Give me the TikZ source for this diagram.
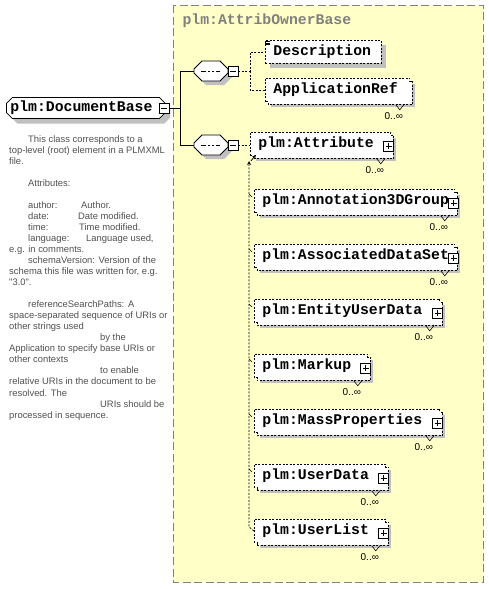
\documentclass[tikz,border=0pt]{standalone}
\usepackage{fontspec}
\usetikzlibrary{shapes.misc,shadows}
\newfontfamily\monofam{Liberation Mono}
\newfontfamily\sansfam{Liberation Sans}
\definecolor{groupfill}{RGB}{255,255,200}
\definecolor{shadowgray}{RGB}{192,192,192}
\definecolor{notegray}{RGB}{80,80,80}
\newcommand\elemfont{\monofam\bfseries\fontsize{14.8pt}{16pt}\selectfont}
\newcommand\notefont{\sansfam\fontsize{9.4pt}{11.05pt}\selectfont}

\tikzset{
  box/.style={draw, fill=white, line width=0.8pt, dash pattern=on 2pt off 1.5pt,
    font=\elemfont, anchor=north west, minimum height=23pt, inner xsep=8pt,
    inner ysep=0pt, text height=10pt, text depth=2pt, align=left},
  single/.style={box, general shadow={fill=shadowgray, shadow xshift=5pt, shadow yshift=-5pt}},
  multi/.style={box, draw=none, general shadow={fill=shadowgray, shadow xshift=6pt, shadow yshift=-6pt},
    general shadow={fill=white, shadow xshift=3pt, shadow yshift=-3pt}},
  seq/.style={draw, fill=white, line width=0.8pt, chamfered rectangle,
    chamfered rectangle sep=4pt, inner xsep=13pt, inner ysep=6pt,
    general shadow={fill=shadowgray, shadow xshift=4pt, shadow yshift=-4pt},
    path picture={
      \draw[line width=0.8pt] ([xshift=-10pt]path picture bounding box.center) -- ([xshift=9pt]path picture bounding box.center);
      \foreach \d in {-4,0,4}
        \fill ([xshift=\d pt]path picture bounding box.center) +(-1.4pt,-1.4pt) rectangle +(1.4pt,1.4pt);}},
  minusbox/.style={draw, fill=white, line width=0.8pt, minimum size=10pt, inner sep=0pt,
    path picture={\draw ([xshift=2pt]path picture bounding box.west) -- ([xshift=-2pt]path picture bounding box.east);}},
  plusbox/.style={draw, fill=white, line width=0.8pt, minimum size=10pt, inner sep=0pt,
    path picture={\draw ([xshift=2pt]path picture bounding box.west) -- ([xshift=-2pt]path picture bounding box.east);
      \draw ([yshift=-2pt]path picture bounding box.north) -- ([yshift=2pt]path picture bounding box.south);}},
  mult/.style={font=\sansfam\fontsize{10pt}{10pt}\selectfont, inner sep=0pt},
  link/.style={line width=1pt},
  dlink/.style={line width=0.8pt, dash pattern=on 2pt off 1.5pt},
  notch/.style={line width=0.6pt}
}

\begin{document}
\begin{tikzpicture}[x=1pt,y=-1pt,>=stealth]
  \useasboundingbox (0,0) rectangle (489,589);
  \draw[fill=groupfill, draw=black!50, line width=1pt, dash pattern=on 8pt off 3.5pt] (173,5) rectangle (483,582);
  \node[anchor=west, font=\elemfont, text=black!50] (grouptitle) at (179,21) {plm:AttribOwnerBase};

  \node[draw, fill=white, line width=0.8pt, chamfered rectangle, chamfered rectangle sep=3pt,
    inner xsep=1pt, inner ysep=1pt, text width=151pt, align=left, font=\elemfont,
    text height=10pt, text depth=3pt, anchor=west,
    general shadow={fill=shadowgray, shadow xshift=5pt, shadow yshift=-5pt}] (docbase) at (6,108) {plm:DocumentBase};
  \node[minusbox] (docmin) at (164,108) {};

  \node[anchor=north west, align=left, font=\notefont, text=notegray, inner sep=0pt] (docnote) at (9,135) {%
    \hspace*{19pt}This class corresponds to a\\
    top-level (root) element in a PLMXML\\
    file.\\[11pt]
    \hspace*{19pt}Attributes:\\[11pt]
    \hspace*{19pt}\makebox[53pt][l]{author:}Author.\\
    \hspace*{19pt}\makebox[50pt][l]{date:}Date modified.\\
    \hspace*{19pt}\makebox[51pt][l]{time:}Time modified.\\
    \hspace*{19pt}\makebox[58pt][l]{language:}Language used,\\
    e.g. in comments.\\
    \hspace*{19pt}schemaVersion: Version of the\\
    schema this file was written for, e.g.\\
    "3.0".\\[11pt]
    \hspace*{19pt}\makebox[100pt][l]{referenceSearchPaths:}A\\
    space-separated sequence of URIs or\\
    other strings used\\
    \hspace*{91pt}by the\\
    Application to specify base URIs or\\
    other contexts\\
    \hspace*{91pt}to enable\\
    relative URIs in the document to be\\
    resolved. The\\
    \hspace*{91pt}URIs should be\\
    processed in sequence.};

  \node[seq] (seqa) at (211,71) {};
  \node[minusbox] (seqamin) at (233,71) {};
  \node[seq] (seqb) at (211,145) {};
  \node[minusbox] (seqbmin) at (233,145) {};

  \node[single, text width=100pt] (descr) at (265,40) {Description};
  \foreach \d in {1.5,3,4.5}
    \draw[line width=0.6pt] ([yshift=-\d pt]descr.north west) -- ++(5pt,0);
  \node[multi, text width=128pt] (appref) at (265,78) {ApplicationRef};

  \node[multi, text width=124pt] (attr) at (250,132) {plm:Attribute};
  \node[multi, text width=184pt] (anno) at (254,189) {plm:Annotation3DGroup};
  \node[multi, text width=184pt] (assoc) at (254,244) {plm:AssociatedDataSet};
  \node[multi, text width=169pt] (entity) at (254,299) {plm:EntityUserData};
  \node[multi, text width=97pt] (markup) at (254,354) {plm:Markup};
  \node[multi, text width=169pt] (mass) at (254,409) {plm:MassProperties};
  \node[multi, text width=115pt] (udata) at (254,464) {plm:UserData};
  \node[multi, text width=115pt] (ulist) at (254,519) {plm:UserList};

  \foreach \n in {appref,attr,anno,assoc,entity,markup,mass,udata,ulist} {
    \draw[dlink] (\n.south west) -- (\n.north west) -- (\n.north east) -- ++(0,-3pt) -- ++(3pt,0)
      -- ([shift={(3pt,-3pt)}]\n.south east) -- ([shift={(3pt,-3pt)}]\n.south west) -- ++(0,3pt) -- cycle;
    \draw[notch] ([xshift=-14pt,yshift=-3pt]\n.south east) -- ++(4pt,-5pt) -- ++(4pt,5pt);
    \node[mult] (\n-m) at ([xshift=-16pt,yshift=-14pt]\n.south east) {0..∞};
  }

  \node[plusbox] (attrp) at ([xshift=-2pt,yshift=-2pt]attr.east) {};
  \node[plusbox] (annop) at ([xshift=-1pt,yshift=-2pt]anno.east) {};
  \node[plusbox] (assocp) at ([xshift=-1pt,yshift=-2pt]assoc.east) {};
  \node[plusbox] (entityp) at ([xshift=-2pt,yshift=-2pt]entity.east) {};
  \node[plusbox] (markupp) at ([xshift=-2pt,yshift=-2pt]markup.east) {};
  \node[plusbox] (massp) at ([xshift=-2pt,yshift=-2pt]mass.east) {};
  \node[plusbox] (udatap) at ([xshift=-2pt,yshift=-2pt]udata.east) {};
  \node[plusbox] (ulistp) at ([xshift=-2pt,yshift=-2pt]ulist.east) {};

  \coordinate (docfork) at (180,108);
  \draw[link] (docmin.east) -- (docfork) |- (seqa.west);
  \draw[link] (docfork) |- (seqb.west);

  \coordinate (seqafork) at (250,71);
  \draw[dlink] (seqamin.east) -- (seqafork) |- (descr.west);
  \draw[dlink] (seqafork) |- (appref.west);
  \draw[dlink] (seqbmin.east) -- (seqbmin.east -| attr.west);

  \coordinate (subtop) at (249,161);
  \coordinate (subbot) at (249,527);
  \draw[dlink,->] (ulist.west) -- (subbot) -- (subtop);
  \foreach \n in {anno,assoc,entity,markup,mass,udata}
    \draw[notch] ([xshift=-5pt,yshift=-5pt]\n.north west) -- ++(3pt,-3pt);
  \draw[line width=0.8pt,->] ([xshift=1pt,yshift=-5pt]attr.south west) -- ([xshift=6pt,yshift=1pt]attr.south west);
\end{tikzpicture}
\end{document}
